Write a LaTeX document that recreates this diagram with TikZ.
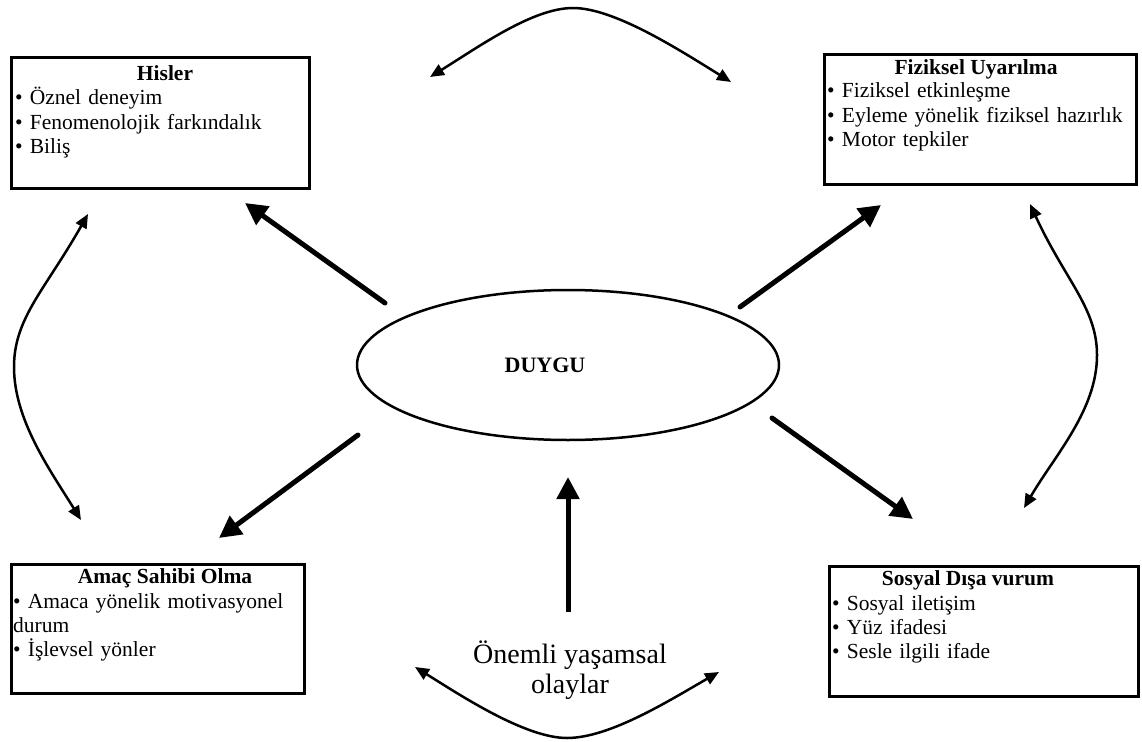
\documentclass[tikz,border=0pt]{standalone}
\usepackage{fontspec}
\setmainfont{Liberation Serif}
\usetikzlibrary{arrows.meta,shapes.geometric}
\begin{document}
\begin{tikzpicture}[x=1pt,y=-1pt,
  panel/.style={draw, line width=3pt, anchor=north west, inner sep=0pt},
  head/.style={font=\fontsize{21.5}{24}\selectfont\bfseries, anchor=base, inner sep=0pt},
  items/.style={font=\fontsize{21.5}{24.3}\selectfont, anchor=base west, align=left,
    inner sep=0pt, text width=300pt},
  bigarrow/.style={line width=5pt, line cap=round,
    -{Triangle[length=22pt,width=22pt]}},
  link/.style={line width=2.5pt,
    {Triangle[length=14pt,width=12pt]}-{Triangle[length=14pt,width=12pt]}},
]
\useasboundingbox (0,0) rectangle (1142,741);

% four outer panels
\node[panel, minimum width=298pt, minimum height=131pt] (his) at (10,56) {};
\node[panel, minimum width=312pt, minimum height=130pt] (fiz) at (823,53) {};
\node[panel, minimum width=293pt, minimum height=129pt] (amac) at (10,563) {};
\node[panel, minimum width=309pt, minimum height=130pt] (sos) at (828,565) {};

% panel headings
\node[head] (histitle) at (165,81) {Hisler};
\node[head] (fiztitle) at (976,75) {Fiziksel Uyarılma};
\node[head] (amactitle) at (165,583) {Amaç Sahibi Olma};
\node[head] (sostitle) at (968,585) {Sosyal Dışa vurum};

% panel contents
\node[items] (hislist) at (15,105) {• Öznel deneyim\\• Fenomenolojik farkındalık\\• Biliş};
\node[items] (fizlist) at (827,98) {• Fiziksel etkinleşme\\• Eyleme yönelik fiziksel hazırlık\\• Motor tepkiler};
\node[items] (amaclist) at (13,608) {• Amaca yönelik motivasyonel\\durum\\• İşlevsel yönler};
\node[items] (soslist) at (832,610) {• Sosyal iletişim\\• Yüz ifadesi\\• Sesle ilgili ifade};

% central emotion
\node[draw, ellipse, line width=2.5pt, minimum width=422pt, minimum height=150pt,
  inner sep=0pt] (duygu) at (568,365) {};
\node[font=\fontsize{22}{24}\selectfont\bfseries, inner sep=0pt] (duygutext) at (545,365) {DUYGU};

% life events (base anchor sits on the last line)
\node[font=\fontsize{28}{30}\selectfont, align=center, anchor=base, inner sep=0pt]
  (olay) at (570,693) {Önemli yaşamsal\\olaylar};

% arrow end points
\coordinate (nwS) at (385,303); \coordinate (nwE) at (245,203);
\coordinate (neS) at (740,307); \coordinate (neE) at (881,205);
\coordinate (swS) at (358,435); \coordinate (swE) at (219,538);
\coordinate (seS) at (772,418); \coordinate (seE) at (913,519);
\coordinate (upS) at (568,612); \coordinate (upE) at (568,477);

\draw[bigarrow] (nwS) -- (nwE);
\draw[bigarrow] (neS) -- (neE);
\draw[bigarrow] (swS) -- (swE);
\draw[bigarrow] (seS) -- (seE);
\draw[bigarrow, line cap=butt] (upS) -- (upE);

% curved two-way links between neighbouring panels
\coordinate (topL) at (430,77);  \coordinate (topR) at (731,82);
\coordinate (botL) at (415,667); \coordinate (botR) at (719,672);
\coordinate (lefT) at (88,214);  \coordinate (lefB) at (81,520);
\coordinate (rigT) at (1030,204); \coordinate (rigB) at (1024,508);

\draw[link] (topL) .. controls (480,46) and (533,8) .. (573,8)
  .. controls (613,8) and (675,47) .. (topR);
\draw[link] (botL) .. controls (460,695) and (525,738) .. (567,738)
  .. controls (610,738) and (670,700) .. (botR);
\draw[link] (lefT) .. controls (45,290) and (14,318) .. (14,367)
  .. controls (14,420) and (50,470) .. (lefB);
\draw[link] (rigT) .. controls (1065,280) and (1097,308) .. (1097,355)
  .. controls (1097,410) and (1055,455) .. (rigB);
\end{tikzpicture}
\end{document}
